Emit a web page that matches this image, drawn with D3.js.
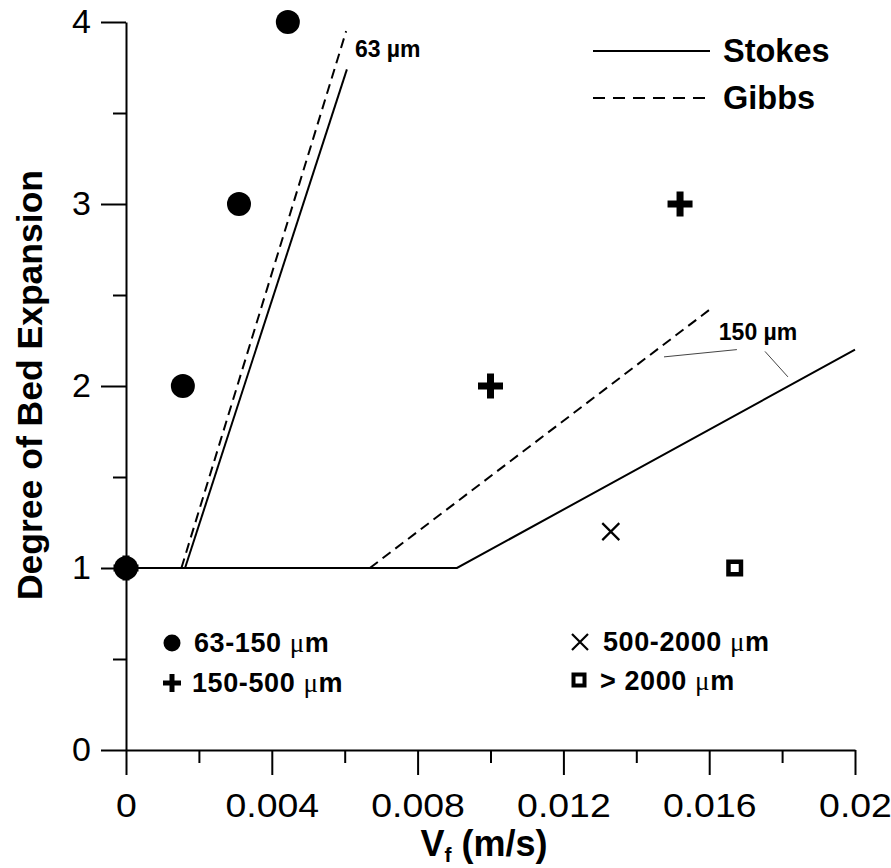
<!DOCTYPE html>
<html>
<head>
<meta charset="utf-8">
<script src="https://cdn.jsdelivr.net/npm/d3@7"></script>
<style>
  body { margin:0; background:#fff; }
  svg { display:block; font-family:"Liberation Sans", Arial, sans-serif; }
  .axis path, .axis line { stroke:#000; stroke-width:2; }
  .axis text { font-size:34px; fill:#000; }
</style>
</head>
<body>
<svg width="891" height="868"></svg>
<script>
// data
var xMajor = [0, 0.004, 0.008, 0.012, 0.016, 0.02];
var xMinor = [0.002, 0.006, 0.01, 0.014, 0.018];
var xLabels = ["0", "0.004", "0.008", "0.012", "0.016", "0.02"];
var yMajor = [0, 1, 2, 3, 4];
var yMinor = [0.5, 1.5, 2.5, 3.5];

var circles = [[0,1],[0.00156,2],[0.0031,3],[0.00444,4]];   // 63-150 um
var pluses  = [[0,1],[0.01,2],[0.0152,3]];                  // 150-500 um
var crosses = [[0.0133,1.2]];                               // 500-2000 um
var squares = [[0.0167,1]];                                 // > 2000 um

var stokes63  = [[0.00162,1],[0.00606,3.74]];
var gibbs63   = [[0.00152,1],[0.00604,3.95]];
var stokes150 = [[0,1],[0.00908,1],[0.02,2.2]];
var gibbs150  = [[0.00669,1],[0.01608,2.43]];

var label63   = [0.00628, 3.81];
var label150  = [0.01734, 2.253];
var leaders150 = [[[0.01476,2.16],[0.01676,2.20]], [[0.01753,2.19],[0.01816,2.05]]];

var svg = d3.select("svg");
var x = d3.scaleLinear().domain([0,0.02]).range([126,855]);
var y = d3.scaleLinear().domain([0,4]).range([750,22]);

// axes
var gx = svg.append("g").attr("class","axis").attr("transform","translate(0,750)");
gx.call(d3.axisBottom(x).tickValues(xMajor).tickSize(25).tickSizeOuter(0).tickPadding(18)
  .tickFormat(function(d,i){ return xLabels[i]; }));
gx.selectAll(".tick text").attr("transform","scale(1.1,1)");
gx.append("g").call(d3.axisBottom(x).tickValues(xMinor).tickSize(13).tickFormat(""))
  .select(".domain").remove();

var gy = svg.append("g").attr("class","axis").attr("transform","translate(126,0)");
gy.call(d3.axisLeft(y).tickValues(yMajor).tickSize(25).tickSizeOuter(0).tickPadding(10)
  .tickFormat(d3.format("d")));
gy.append("g").call(d3.axisLeft(y).tickValues(yMinor).tickSize(13).tickFormat(""))
  .select(".domain").remove();
svg.selectAll(".axis").attr("font-size", null).attr("font-family", null);

// axis titles
var xt = svg.append("text").attr("x",484).attr("y",856).attr("text-anchor","middle")
  .attr("font-weight","bold").attr("font-size",36);
xt.append("tspan").text("V");
xt.append("tspan").attr("font-size",21).attr("dy",6).text("f");
xt.append("tspan").attr("dy",-6).text(" (m/s)");

svg.append("text").attr("transform","translate(42,385) rotate(-90)")
  .attr("text-anchor","middle").attr("font-weight","bold").attr("font-size",35.5)
  .text("Degree of Bed Expansion");

// model lines
var line = d3.line().x(function(d){ return x(d[0]); }).y(function(d){ return y(d[1]); });
function drawLine(data, dashed){
  svg.append("path").datum(data).attr("d",line).attr("fill","none")
    .attr("stroke","#000").attr("stroke-width",2)
    .attr("stroke-dasharray", dashed ? "10,6" : null);
}
drawLine(stokes150,false);
drawLine(gibbs150,true);
drawLine(stokes63,false);
drawLine(gibbs63,true);

leaders150.forEach(function(l){
  svg.append("path").datum(l).attr("d",line).attr("stroke","#444").attr("stroke-width",1);
});
svg.append("text").attr("x",x(label63[0])).attr("y",y(label63[1]))
  .attr("font-weight","bold").attr("font-size",23).text("63 µm");
svg.append("text").attr("x",x(label150[0])).attr("y",y(label150[1])).attr("text-anchor","middle")
  .attr("font-weight","bold").attr("font-size",23).text("150 µm");

// marker shapes
function plus(g, s, t){
  g.append("rect").attr("x",-s/2).attr("y",-t/2).attr("width",s).attr("height",t);
  g.append("rect").attr("x",-t/2).attr("y",-s/2).attr("width",t).attr("height",s);
}
function cross(g, s){
  g.append("path").attr("d","M"+(-s/2)+","+(-s/2)+"L"+(s/2)+","+(s/2)+"M"+(s/2)+","+(-s/2)+"L"+(-s/2)+","+(s/2))
    .attr("stroke","#000").attr("stroke-width",2.2);
}
function square(g, s, t){
  g.append("rect").attr("x",-s/2+t/2).attr("y",-s/2+t/2).attr("width",s-t).attr("height",s-t)
    .attr("fill","none").attr("stroke","#000").attr("stroke-width",t);
}

svg.selectAll(".circ").data(circles).enter().append("circle").attr("class","circ")
  .attr("cx",function(d){ return x(d[0]); }).attr("cy",function(d){ return y(d[1]); })
  .attr("r",12).attr("fill","#000");
svg.selectAll(".plus").data(pluses).enter().append("g").attr("class","plus")
  .attr("transform",function(d){ return "translate("+x(d[0])+","+y(d[1])+")"; })
  .each(function(){ plus(d3.select(this), 25, 7); });
svg.selectAll(".cross").data(crosses).enter().append("g").attr("class","cross")
  .attr("transform",function(d){ return "translate("+x(d[0])+","+y(d[1])+")"; })
  .each(function(){ cross(d3.select(this), 17); });
svg.selectAll(".sq").data(squares).enter().append("g").attr("class","sq")
  .attr("transform",function(d){ return "translate("+x(d[0])+","+y(d[1])+")"; })
  .each(function(){ square(d3.select(this), 17, 4.5); });

// top-right legend
svg.append("line").attr("x1",593).attr("x2",710).attr("y1",51).attr("y2",51)
  .attr("stroke","#000").attr("stroke-width",2);
svg.append("line").attr("x1",593).attr("x2",710).attr("y1",98).attr("y2",98)
  .attr("stroke","#000").attr("stroke-width",2).attr("stroke-dasharray","12,8");
svg.append("text").attr("x",723).attr("y",62).attr("font-weight","bold").attr("font-size",32.5).text("Stokes");
svg.append("text").attr("x",723).attr("y",109).attr("font-weight","bold").attr("font-size",32.5).text("Gibbs");

// bottom legend
function legText(tx, ty, label){
  var t = svg.append("text").attr("x",tx).attr("y",ty).attr("font-weight","bold")
    .attr("font-size",27).attr("letter-spacing",0.6);
  t.append("tspan").text(label + " ");
  t.append("tspan").attr("font-family","Liberation Serif").attr("font-weight","normal").text("μ");
  t.append("tspan").text("m");
}
svg.append("circle").attr("cx",172).attr("cy",643).attr("r",8.5);
legText(194,652,"63-150");
plus(svg.append("g").attr("transform","translate(172,683)"), 18, 5);
legText(192,692,"150-500");
cross(svg.append("g").attr("transform","translate(580,642)"), 16);
legText(603,651,"500-2000");
square(svg.append("g").attr("transform","translate(579,680)"), 15, 4);
legText(600,690,"> 2000");
</script>
</body>
</html>
